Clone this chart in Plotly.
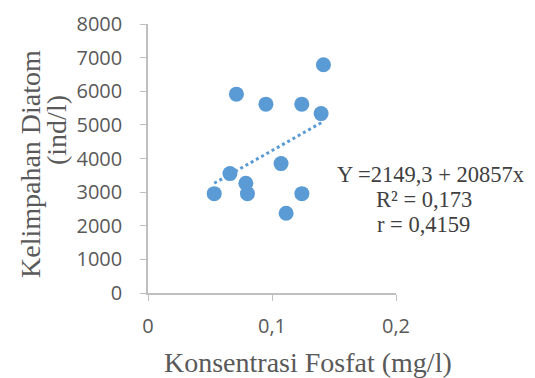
import plotly.graph_objects as go

# Data
fosfat = [0.0534, 0.0661, 0.0713, 0.0789, 0.0802, 0.0951, 0.1073, 0.1114, 0.1240, 0.1241, 0.1396, 0.1415]
diatom = [2955, 3551, 5914, 3264, 2955, 5616, 3848, 2372, 5616, 2955, 5336, 6786]
intercept = 2149.3
slope = 20857
x_ticks = [0, 0.1, 0.2]
x_tick_labels = ["0", "0,1", "0,2"]
y_ticks = [0, 1000, 2000, 3000, 4000, 5000, 6000, 7000, 8000]
x_title = "Konsentrasi Fosfat (mg/l)"
y_title_lines = ["Kelimpahan Diatom", "(ind/l)"]
eq_lines = ["Y =2149,3 + 20857x", "R² = 0,173", "r = 0,4159"]

# the page body adds an 8px margin; size the figure so it fits the window
OFF = 8
W, H = 535 - OFF, 378 - OFF
L, R, T, B = 148 - OFF, 139, 24 - OFF, 85
pw, ph = W - L - R, H - T - B

def px(xp):
    return (xp - OFF - L) / pw

def py(yp):
    return (H - B - (yp - OFF)) / ph

blue = "#5B9BD5"
axis_col = "#BFBFBF"
tick_font = dict(family="Open Sans", size=20, color="#595959")
title_font = dict(family="Liberation Serif", size=28, color="#595959")
eq_font = dict(family="Liberation Serif", size=22.5, color="#404040")

xmin, xmax = min(fosfat), max(fosfat)
trend_x = [xmin, xmax]
trend_y = [intercept + slope * v for v in trend_x]

fig = go.Figure()
fig.add_trace(go.Scatter(x=trend_x, y=trend_y, mode="lines",
                         line=dict(color=blue, width=3, dash="dot"),
                         hoverinfo="skip", showlegend=False))
fig.add_trace(go.Scatter(x=fosfat, y=diatom, mode="markers",
                         marker=dict(color=blue, size=15),
                         showlegend=False))

annotations = [
    dict(text=x_title, x=px(308), y=py(362), font=title_font),
    dict(text=y_title_lines[0], x=px(30), y=py(164), font=title_font, textangle=-90),
    dict(text=y_title_lines[1], x=px(56), y=py(130), font=title_font, textangle=-90),
    dict(text=eq_lines[0], x=px(430), y=py(175), font=eq_font),
    dict(text=eq_lines[1], x=px(424), y=py(199), font=eq_font),
    dict(text=eq_lines[2], x=px(423), y=py(224), font=eq_font),
]
for a in annotations:
    a.update(xref="paper", yref="paper", showarrow=False,
             xanchor="center", yanchor="middle")

fig.update_layout(
    width=W, height=H,
    margin=dict(l=L, r=R, t=T, b=B),
    paper_bgcolor="white", plot_bgcolor="white",
    xaxis=dict(range=[0, 0.2], tickvals=x_ticks, ticktext=x_tick_labels,
               showgrid=False, zeroline=False, showline=True, linecolor=axis_col,
               linewidth=1.5, ticks="outside", ticklen=6, tickcolor=axis_col,
               tickfont=tick_font, ticklabelstandoff=8, automargin=False),
    yaxis=dict(range=[0, 8000], tickvals=y_ticks,
               showgrid=False, zeroline=False, showline=True, linecolor=axis_col,
               linewidth=1.5, ticks="outside", ticklen=6, tickcolor=axis_col,
               tickfont=tick_font, ticklabelstandoff=14, automargin=False),
    annotations=annotations,
)
fig.write_html("out.html")
